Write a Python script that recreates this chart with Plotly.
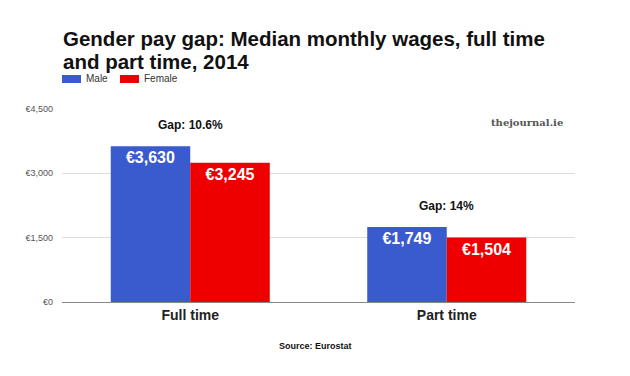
import plotly.graph_objects as go

categories = ["Full time", "Part time"]
male = [3630, 1749]
female = [3245, 1504]
gap_labels = ["Gap: 10.6%", "Gap: 14%"]
y_ticks = [0, 1500, 3000, 4500]
y_tick_labels = ["€0", "€1,500", "€3,000", "€4,500"]
series_names = ["Male", "Female"]
series_colors = ["#3A5BCD", "#EE0000"]
title_lines = ["Gender pay gap: Median monthly wages, full time", "and part time, 2014"]

OFF = 8  # default page body margin
W, H = 630 - OFF, 376 - OFF
L, R, T, B = 54, 55, 101, 74
plot_w = W - L - R
plot_h = H - T - B


def px(x):
    return (x - OFF - L) / plot_w


def py(y):
    return 1 - (y - OFF - T) / plot_h


fig = go.Figure()
for name, vals, col in zip(series_names, [male, female], series_colors):
    fig.add_trace(go.Bar(
        name=name, x=categories, y=vals, marker_color=col, marker_line_width=0,
        text=[f"€{v:,}" for v in vals], textposition="inside", insidetextanchor="end",
        textangle=0, textfont=dict(family="Liberation Sans", size=16, color="white", weight="bold"),
    ))

for cat, m, g in zip(categories, male, gap_labels):
    fig.add_annotation(x=cat, y=m, yshift=21, text=g, showarrow=False,
                       font=dict(family="Liberation Sans", size=12, color="#111", weight="bold"),
                       xanchor="center", yanchor="middle")

for line, yc in zip(title_lines, [38, 61]):
    fig.add_annotation(xref="paper", yref="paper", x=px(61), y=py(yc),
                       xanchor="left", yanchor="middle", align="left", showarrow=False,
                       text=line,
                       font=dict(family="Liberation Sans", size=20.5, color="#111", weight="bold"))

# legend
leg_x = [62, 120]
for x0, name, col in zip(leg_x, series_names, series_colors):
    fig.add_shape(type="rect", xref="paper", yref="paper", x0=px(x0), x1=px(x0 + 19),
                  y0=py(83), y1=py(75), fillcolor=col, line_width=0)
    fig.add_annotation(xref="paper", yref="paper", x=px(x0 + 22), y=py(79),
                       xanchor="left", yanchor="middle", showarrow=False, text=name,
                       font=dict(family="Liberation Sans", size=10, color="#333"))

fig.add_annotation(xref="paper", yref="paper", x=px(527), y=py(122),
                   xanchor="center", yanchor="middle", showarrow=False, text="thejournal.ie",
                   font=dict(family="DejaVu Serif", size=10, color="#555", weight="bold"))

fig.add_annotation(xref="paper", yref="paper", x=px(315), y=py(346),
                   xanchor="center", yanchor="middle", showarrow=False, text="Source: Eurostat",
                   font=dict(family="Liberation Sans", size=9, color="#111", weight="bold"))

fig.update_layout(
    width=W, height=H, margin=dict(l=L, r=R, t=T, b=B, autoexpand=False),
    paper_bgcolor="white", plot_bgcolor="white",
    barmode="group", bargap=0.38, bargroupgap=0,
    showlegend=False,
    xaxis=dict(tickfont=dict(family="Liberation Sans", size=14, color="#222", weight="bold"),
               showgrid=False, showline=True, linecolor="#888", linewidth=1, ticks=""),
    yaxis=dict(range=[0, 4500], tickvals=y_ticks, ticktext=y_tick_labels,
               tickfont=dict(family="Liberation Sans", size=9, color="#555"),
               showgrid=True, gridcolor="#DDDDDD", zeroline=False, ticklabelstandoff=8),
    font=dict(family="Liberation Sans"),
)

fig.write_html("out.html")
